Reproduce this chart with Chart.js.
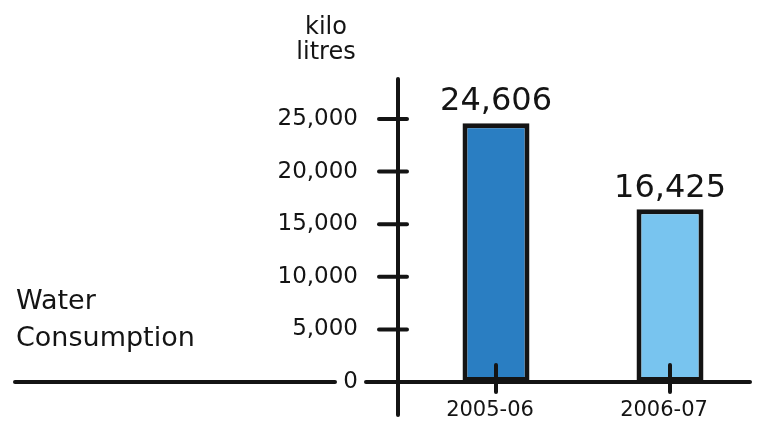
<!DOCTYPE html>
<html><head><meta charset="utf-8">
<script src="https://cdn.jsdelivr.net/npm/chart.js@4/dist/chart.umd.min.js"></script>
<style>html,body{margin:0;padding:0;background:#fff;}#wrap{position:relative;width:762px;height:426px;}</style>
</head><body><div id="wrap"><canvas id="c" width="762" height="426"></canvas></div>
<script>
const categories = ['2005-06', '2006-07'];
const consumption = [24606, 16425];
const barColors = ['#2a7ec2', '#78c4ef'];
const yTicks = [0, 5000, 10000, 15000, 20000, 25000];
const titleLines = ['Water', 'Consumption'];
const unitLines = ['kilo', 'litres'];

const FONT = '"DejaVu Sans", sans-serif';
const INK = '#141414';

const decor = {
  id: 'decor',
  beforeDatasetsDraw(chart) {
    const ctx = chart.ctx, y = chart.scales.y;
    const y0 = y.getPixelForValue(0);
    ctx.save();
    ctx.strokeStyle = INK; ctx.lineWidth = 4; ctx.lineCap = 'round';
    ctx.beginPath(); ctx.moveTo(15, y0); ctx.lineTo(335, y0); ctx.stroke();
    ctx.beginPath(); ctx.moveTo(366, y0); ctx.lineTo(750, y0); ctx.stroke();
    ctx.beginPath(); ctx.moveTo(398, 79); ctx.lineTo(398, 415); ctx.stroke();
    ctx.fillStyle = INK; ctx.font = '23px ' + FONT;
    ctx.textAlign = 'right'; ctx.textBaseline = 'middle';
    yTicks.forEach(v => {
      const py = y.getPixelForValue(v);
      ctx.beginPath(); ctx.moveTo(379, py); ctx.lineTo(407, py); ctx.stroke();
      ctx.fillText(v.toLocaleString('en-US'), 358, py);
    });
    ctx.restore();
  },
  afterDatasetsDraw(chart) {
    const ctx = chart.ctx, x = chart.scales.x, y = chart.scales.y;
    const y0 = y.getPixelForValue(0);
    ctx.save();
    ctx.strokeStyle = INK; ctx.lineWidth = 4; ctx.lineCap = 'round';
    ctx.fillStyle = INK; ctx.textAlign = 'center'; ctx.textBaseline = 'middle';
    ctx.font = '21px ' + FONT;
    categories.forEach((c, i) => {
      const px = x.getPixelForValue(i);
      ctx.beginPath(); ctx.moveTo(px, y0 - 17); ctx.lineTo(px, y0 + 10); ctx.stroke();
      ctx.fillText(c, px - 6, 411);
    });
    const meta = chart.getDatasetMeta(0);
    ctx.font = '32px ' + FONT;
    meta.data.forEach((el, i) => {
      ctx.fillText(consumption[i].toLocaleString('en-US'), el.x, el.y - 21);
    });
    ctx.font = '27px ' + FONT; ctx.textAlign = 'left';
    titleLines.forEach((t, i) => ctx.fillText(t, 16, 302 + i * 37));
    ctx.font = '24px ' + FONT; ctx.textAlign = 'center';
    unitLines.forEach((t, i) => ctx.fillText(t, 326, 28 + i * 25));
    ctx.restore();
  }
};

new Chart(document.getElementById('c'), {
  type: 'bar',
  data: {
    labels: categories,
    datasets: [{
      data: consumption,
      backgroundColor: barColors,
      borderColor: INK,
      borderWidth: 5,
      borderSkipped: false,
      categoryPercentage: 1,
      barPercentage: 0.385
    }]
  },
  options: {
    responsive: false,
    animation: false,
    devicePixelRatio: 1,
    layout: { padding: { top: 119, right: 5, left: 0, bottom: 44 } },
    plugins: { legend: { display: false }, tooltip: { enabled: false } },
    scales: {
      x: { display: false },
      y: {
        min: 0, max: 25000,
        grid: { display: false, drawTicks: false },
        border: { display: false },
        ticks: { display: false },
        afterFit(s) { s.width = 409; }
      }
    }
  },
  plugins: [decor]
});
</script>
</body></html>
